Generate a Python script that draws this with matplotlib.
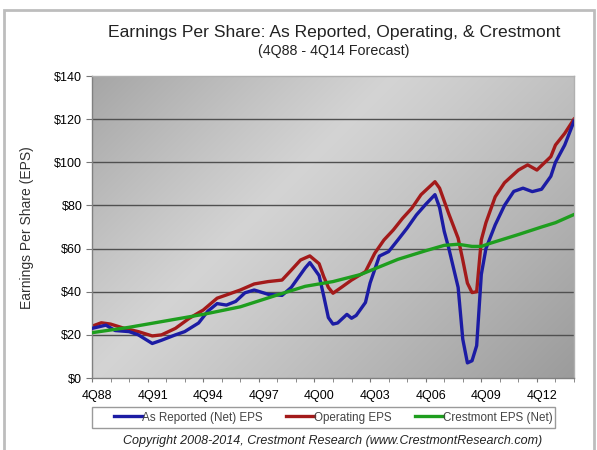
import numpy as np
import matplotlib
matplotlib.use("Agg")
import matplotlib.pyplot as plt
from matplotlib.patches import Rectangle
from matplotlib.lines import Line2D
from matplotlib.transforms import ScaledTranslation

plt.rcParams['font.family'] = ['Liberation Sans', 'DejaVu Sans']

# ---- data (quarter index 0 = 4Q88) ----
reported_q = [0, 3, 5, 8, 10, 13, 15, 18, 20, 23, 25, 27, 29, 31, 33, 35, 38, 41, 43, 46, 47, 49, 50, 51,
              52, 53, 55, 56, 57, 59, 60, 62, 64, 66, 68, 70, 72, 74, 75, 76, 77, 78, 79, 80, 81, 82, 83,
              84, 85, 87, 89, 91, 93, 95, 97, 99, 100, 102, 104]
reported_v = [23, 24.5, 22, 21.5, 20, 16, 17.5, 20, 21.5, 25.5, 31, 34.5, 33.8, 35.5, 39.5, 40.8, 38.8, 38.3,
              42, 51, 53.5, 47.5, 38, 28, 25, 25.5, 29.5, 27.7, 29, 35, 44, 56.5, 58.6, 64, 69.5, 75.6, 80.5,
              85, 79, 68, 60, 51, 42, 18, 7, 8, 15, 48, 60, 71, 80, 86.5, 88, 86.4, 87.5, 93.5, 100, 108, 119]

operating_q = [0, 2, 4, 7, 10, 13, 15, 18, 21, 24, 27, 29, 32, 35, 38, 41, 43, 45, 47, 49, 50, 51, 52, 54,
               56, 59, 61, 63, 65, 67, 69, 71, 72, 74, 75, 77, 79, 80, 81, 82, 83, 84, 85, 87, 89, 92, 94,
               96, 97, 99, 100, 102, 104]
operating_v = [24, 25.6, 25, 23, 21.5, 19.5, 20, 23, 27.7, 31.5, 37, 38.5, 40.8, 43.6, 44.7, 45.4, 50, 54.7,
               56.6, 53, 47, 42, 39.3, 42.3, 45.4, 49.3, 57.8, 64, 68.6, 74, 78.7, 85, 87, 91, 88, 76, 64.8,
               54.7, 44, 39.6, 40, 64, 72, 84, 90.5, 96.4, 98.8, 96.4, 98.5, 102.6, 108, 113.4, 120]

crestmont_q = [0, 8, 16, 24, 32, 40, 46, 52, 58, 66, 72, 76, 79, 82, 84, 86, 92, 97, 100, 104]
crestmont_v = [21, 23.5, 26.5, 29.5, 33, 38.5, 42.5, 44.7, 48, 55, 59, 61.5, 62, 61, 61, 62.5, 66.5, 70, 72, 75.8]

x_labels = ['4Q88', '4Q91', '4Q94', '4Q97', '4Q00', '4Q03', '4Q06', '4Q09', '4Q12']
y_ticks = [0, 20, 40, 60, 80, 100, 120, 140]

W, H = 597, 450
fig = plt.figure(figsize=(W / 100, H / 100), dpi=100)
fig.patch.set_facecolor('white')

# chart-area border
fig.patches.append(Rectangle((4 / W, -0.05), 590 / W, (H - 10) / H + 0.05, transform=fig.transFigure,
                             fill=False, edgecolor='#bdbdbd', linewidth=2.0))

L, R, T, B = 92, 574, 76, 378
ax = fig.add_axes([L / W, 1 - B / H, (R - L) / W, (B - T) / H])

# gradient background
pw, ph = R - L, B - T
xx, yy = np.meshgrid(np.linspace(0, 1, 300), np.linspace(1, 0, 200))
d = (xx * pw - yy * ph) / max(pw, ph)
g = 0.83 - 0.30 * np.clip(-d, 0, None) ** 1.1 - 0.22 * np.clip(d, 0, None) ** 1.1
img = np.dstack([g, g, g])
ax.imshow(img, extent=[0, 104, 0, 140], aspect='auto', zorder=0, interpolation='bilinear')

ax.set_xlim(0, 104)
ax.set_ylim(0, 140)

for yv in y_ticks[1:-1]:
    ax.axhline(yv, color='#505050', lw=1.0, zorder=1)

ax.plot(reported_q, reported_v, color='#1c1ca4', lw=2.4, zorder=3, solid_joinstyle='round')
ax.plot(operating_q, operating_v, color='#a31a1a', lw=2.4, zorder=2, solid_joinstyle='round')
ax.plot(crestmont_q, crestmont_v, color='#1e9e1e', lw=2.4, zorder=4, solid_joinstyle='round')

ax.set_yticks(y_ticks)
ax.set_yticklabels(['$%d' % v for v in y_ticks], fontsize=9)
ax.set_xticks(np.arange(0, 105, 4), minor=True)
ax.set_xticks(np.arange(0, 12 * len(x_labels), 12))
ax.set_xticklabels(x_labels, fontsize=9)
ax.tick_params(axis='x', which='both', length=3, color='#777777', pad=6)
ax.tick_params(axis='y', length=4, color='#777777', pad=3)
shift = ScaledTranslation(5 / 100, 0, fig.dpi_scale_trans)
for lbl in ax.get_xticklabels():
    lbl.set_transform(lbl.get_transform() + shift)

for side in ['left', 'bottom']:
    ax.spines[side].set_color('#808080')
    ax.spines[side].set_linewidth(1.0)
for side in ['right', 'top']:
    ax.spines[side].set_color('#b0b0b0')
    ax.spines[side].set_linewidth(1.0)

fig.text(27 / W, 1 - 228 / H, 'Earnings Per Share (EPS)', rotation=90, ha='center', va='center',
         fontsize=10, color='#333333')

fig.text(334 / W, 1 - 33 / H, 'Earnings Per Share: As Reported, Operating, & Crestmont',
         ha='center', va='center', fontsize=12.6, color='#222222')
fig.text(334 / W, 1 - 51 / H, '(4Q88 - 4Q14 Forecast)', ha='center', va='center', fontsize=10.3,
         color='#222222')

# legend frame drawn in figure pixels
fig.patches.append(Rectangle((92 / W, 1 - 428 / H), (555 - 92) / W, 21 / H, transform=fig.transFigure,
                             fill=False, edgecolor='#9a9a9a', linewidth=1.0))
handles = [Line2D([], [], color='#1c1ca4', lw=2.4),
           Line2D([], [], color='#a31a1a', lw=2.4),
           Line2D([], [], color='#1e9e1e', lw=2.4)]
leg = fig.legend(handles, ['As Reported (Net) EPS', 'Operating EPS', 'Crestmont EPS (Net)'],
                 loc='center', bbox_to_anchor=(333.5 / W, 1 - 417.5 / H), ncol=3, fontsize=8.4,
                 frameon=False, handlelength=2.4, handletextpad=0.0,
                 columnspacing=2.0, borderpad=0.2)
for t in leg.get_texts():
    t.set_color('#444444')

fig.text(333 / W, 1 - 441 / H, 'Copyright 2008-2014, Crestmont Research (www.CrestmontResearch.com)',
         ha='center', va='center', fontsize=9, style='italic', color='#222222')

fig.savefig('out.png', dpi=100)
